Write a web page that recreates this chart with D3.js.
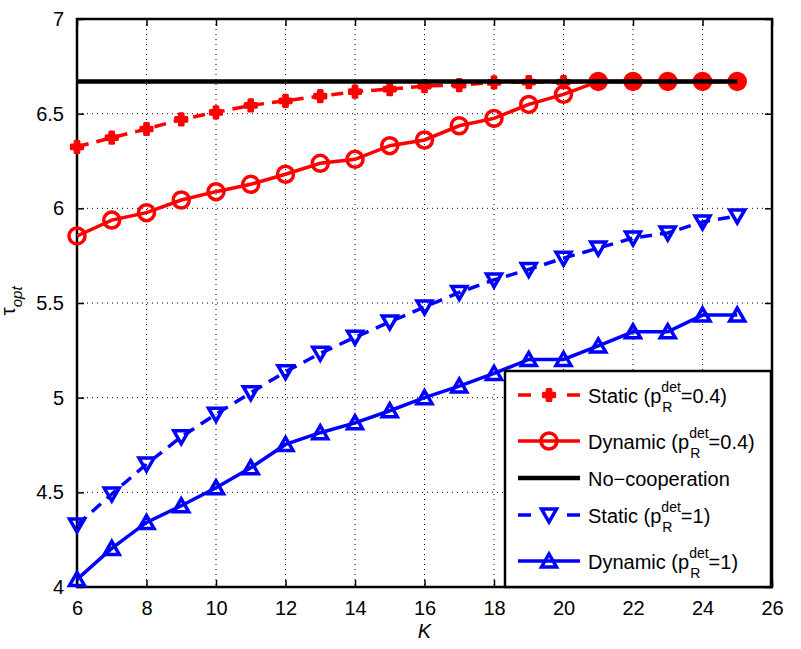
<!DOCTYPE html>
<html>
<head>
<meta charset="utf-8">
<script src="https://cdn.jsdelivr.net/npm/d3@7"></script>
<style>
  body { margin: 0; background: #fff; }
  text { font-family: "Liberation Sans", Arial, Helvetica, sans-serif; }
</style>
</head>
<body>
<svg id="chart"></svg>
<script>
// K values on the x axis
var kValues = [6,7,8,9,10,11,12,13,14,15,16,17,18,19,20,21,22,23,24,25];

// tau_opt
var staticP04  = [6.325,6.373,6.419,6.470,6.507,6.544,6.568,6.593,6.616,6.630,6.646,6.651,6.665,6.667,6.667,6.67,6.67,6.67,6.67,6.67];
var dynamicP04 = [5.854,5.938,5.977,6.044,6.088,6.127,6.180,6.238,6.259,6.331,6.361,6.436,6.475,6.549,6.602,6.67,6.67,6.67,6.67,6.67];
var noCoop     = [6.67,6.67,6.67,6.67,6.67,6.67,6.67,6.67,6.67,6.67,6.67,6.67,6.67,6.67,6.67,6.67,6.67,6.67,6.67,6.67];
var staticP1   = [4.327,4.491,4.649,4.793,4.913,5.026,5.137,5.234,5.319,5.400,5.479,5.556,5.622,5.677,5.737,5.790,5.843,5.870,5.928,5.960];
var dynamicP1  = [4.040,4.204,4.341,4.429,4.524,4.630,4.753,4.815,4.867,4.931,5.000,5.061,5.128,5.202,5.202,5.273,5.348,5.348,5.436,5.436];

var xTicks = [6,8,10,12,14,16,18,20,22,24,26];
var yTicks = [4,4.5,5,5.5,6,6.5,7];

var legendNames = ["Static", "Dynamic", "No\u2212cooperation", "Static", "Dynamic"];
var legendP     = ["0.4", "0.4", null, "1", "1"];

var width = 801, height = 649;
var plotLeft = 77, plotTop = 19, plotRight = 772, plotBottom = 587;

var svg = d3.select("#chart").attr("width", width).attr("height", height);

var x = d3.scaleLinear().domain([6, 26]).range([plotLeft, plotRight]);
var y = d3.scaleLinear().domain([4, 7]).range([plotBottom, plotTop]);

// grid
svg.selectAll(".gx").data(xTicks.slice(1, -1)).enter().append("line")
   .attr("x1", function(d){ return x(d); }).attr("x2", function(d){ return x(d); })
   .attr("y1", plotTop).attr("y2", plotBottom)
   .attr("stroke", "#000").attr("stroke-width", 1).attr("stroke-dasharray", "1,4");
svg.selectAll(".gy").data(yTicks.slice(1, -1)).enter().append("line")
   .attr("y1", function(d){ return y(d); }).attr("y2", function(d){ return y(d); })
   .attr("x1", plotLeft).attr("x2", plotRight)
   .attr("stroke", "#000").attr("stroke-width", 1).attr("stroke-dasharray", "1,4");

// axes (ticks inward, mirrored)
var tickLen = 7;
svg.append("g").attr("transform", "translate(0," + plotBottom + ")")
   .call(d3.axisBottom(x).tickValues(xTicks).tickSize(-tickLen).tickPadding(14).tickFormat(d3.format("d")));
svg.append("g").attr("transform", "translate(0," + plotTop + ")")
   .call(d3.axisTop(x).tickValues(xTicks).tickSize(-tickLen).tickFormat(""));
svg.append("g").attr("transform", "translate(" + plotLeft + ",0)")
   .call(d3.axisLeft(y).tickValues(yTicks).tickSize(-tickLen).tickPadding(13).tickFormat(function(d){ return String(d); }));
svg.append("g").attr("transform", "translate(" + plotRight + ",0)")
   .call(d3.axisRight(y).tickValues(yTicks).tickSize(-tickLen).tickFormat(""));

svg.selectAll(".domain").remove();
svg.selectAll(".tick line").attr("stroke", "#000").attr("stroke-width", 1.5);
svg.selectAll(".tick text").attr("font-size", "20px").attr("fill", "#000")
   .attr("font-family", "'Liberation Sans', Arial, sans-serif");

svg.append("rect").attr("x", plotLeft).attr("y", plotTop)
   .attr("width", plotRight - plotLeft).attr("height", plotBottom - plotTop)
   .attr("fill", "none").attr("stroke", "#000").attr("stroke-width", 2.5);

// markers
var crossSym = d3.symbol().type(d3.symbolCross).size(70);
function drawMarker(g, kind, color, filled) {
  if (kind === "cross") {
    g.append("path").attr("d", crossSym()).attr("fill", color)
     .attr("stroke", color).attr("stroke-width", 3).attr("stroke-linejoin", "round");
  } else if (kind === "circle") {
    g.append("circle").attr("r", 8).attr("fill", filled ? color : "none")
     .attr("stroke", color).attr("stroke-width", 3.5);
  } else if (kind === "down") {
    g.append("path").attr("d", "M-7.5,-6L7.5,-6L0,7Z").attr("fill", "none")
     .attr("stroke", color).attr("stroke-width", 3.5).attr("stroke-linejoin", "miter");
  } else if (kind === "up") {
    g.append("path").attr("d", "M-7.5,6L7.5,6L0,-7Z").attr("fill", "none")
     .attr("stroke", color).attr("stroke-width", 3.5).attr("stroke-linejoin", "miter");
  }
}

var series = [
  { values: staticP04,  color: "#ff0000", dash: "12,8", marker: "cross" },
  { values: dynamicP04, color: "#ff0000", dash: null,   marker: "circle" },
  { values: noCoop,     color: "#000000", dash: null,   marker: null },
  { values: staticP1,   color: "#0000ff", dash: "12,8", marker: "down" },
  { values: dynamicP1,  color: "#0000ff", dash: null,   marker: "up" }
];

var line = d3.line()
  .x(function(d){ return x(d[0]); })
  .y(function(d){ return y(d[1]); });

var plotG = svg.append("g");
series.forEach(function(s, si) {
  var pts = kValues.map(function(k, i){ return [k, s.values[i]]; });
  if (s.marker) {
    var mg = plotG.append("g");
    pts.forEach(function(p, i) {
      var g = mg.append("g").attr("transform", "translate(" + x(p[0]) + "," + y(p[1]) + ")");
      // where dynamic and static coincide the markers merge into a solid disc
      var filled = (si === 1 && Math.abs(staticP04[i] - dynamicP04[i]) < 0.005);
      drawMarker(g, s.marker, s.color, filled);
    });
  }
  plotG.append("path").datum(pts)
    .attr("d", line).attr("fill", "none")
    .attr("stroke", s.color).attr("stroke-width", s.color === "#000000" ? 4.5 : 3.5)
    .attr("stroke-dasharray", s.dash);
});

// axis labels
svg.append("text").attr("x", (plotLeft + plotRight) / 2).attr("y", 638)
   .attr("text-anchor", "middle").attr("font-size", "20px").attr("font-style", "italic").text("K");

var yl = svg.append("text").attr("transform", "translate(15,301) rotate(-90)")
   .attr("text-anchor", "middle").attr("font-size", "21px");
yl.append("tspan").text("\u03c4");
yl.append("tspan").attr("dy", 7).attr("font-size", "15px").attr("font-style", "italic").text("opt");

// legend
var lx = 505, ly = 371, lw = 266, lh = 216;
var leg = svg.append("g");
leg.append("rect").attr("x", lx).attr("y", ly).attr("width", lw).attr("height", lh)
   .attr("fill", "#fff").attr("stroke", "#000").attr("stroke-width", 2.5);

var rowH = legendP.map(function(p){ return p ? 46 : 28; });
var cy = ly + 1;
legendNames.forEach(function(name, i) {
  var s = series[i];
  cy += (i === 0 ? rowH[0] / 2 : (rowH[i - 1] + rowH[i]) / 2);
  var g = leg.append("g");
  g.append("line").attr("x1", 518).attr("x2", 580).attr("y1", cy).attr("y2", cy)
   .attr("stroke", s.color).attr("stroke-width", s.color === "#000000" ? 4.5 : 3.5)
   .attr("stroke-dasharray", s.dash ? "13,36,13" : null);
  if (s.marker) {
    drawMarker(g.append("g").attr("transform", "translate(549," + cy + ")"), s.marker, s.color, false);
  }
  var base = cy + 8;
  var t1 = g.append("text").attr("x", 588).attr("y", base).attr("font-size", "20px")
    .text(legendP[i] ? name + " (p" : name);
  if (legendP[i]) {
    var x0 = 588 + t1.node().getComputedTextLength();
    var sup = g.append("text").attr("x", x0).attr("y", base - 11).attr("font-size", "14px").text("det");
    var sub = g.append("text").attr("x", x0 + 1).attr("y", base + 9).attr("font-size", "14px").text("R");
    var w = Math.max(sup.node().getComputedTextLength(), sub.node().getComputedTextLength() + 1);
    g.append("text").attr("x", x0 + w).attr("y", base).attr("font-size", "20px")
     .text("=" + legendP[i] + ")");
  }
});
</script>
</body>
</html>
